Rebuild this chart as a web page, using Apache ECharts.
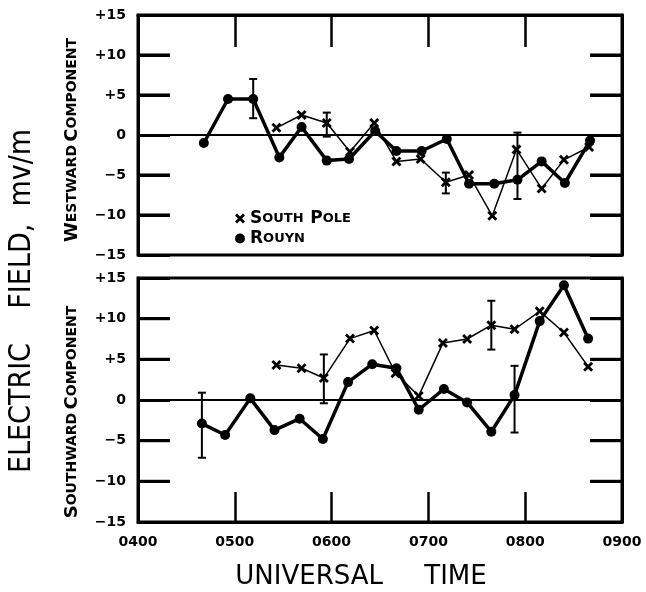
<!DOCTYPE html>
<html>
<head>
<meta charset="utf-8">
<script src="https://cdn.jsdelivr.net/npm/echarts@6/dist/echarts.min.js"></script>
<style>
  html, body { margin: 0; padding: 0; background: #fff; }
  #chart { width: 646px; height: 592px; background: #fff; }
</style>
</head>
<body>
<div id="chart"></div>
<script>
// universal time in decimal hours, field values in mV/m
const westRouynTime = [4.68, 4.93, 5.19, 5.46, 5.69, 5.95, 6.18, 6.45, 6.67, 6.93, 7.19, 7.42, 7.68, 7.92, 8.17, 8.41, 8.67];
const westRouyn = [-1, 4.5, 4.5, -2.8, 1.0, -3.2, -3, 0.5, -2, -2, -0.5, -6.1, -6.1, -5.6, -3.3, -6, -0.7];
const westPoleTime = [5.43, 5.69, 5.95, 6.19, 6.44, 6.67, 6.92, 7.18, 7.42, 7.66, 7.91, 8.17, 8.40, 8.66];
const westPole = [0.9, 2.5, 1.5, -2.1, 1.5, -3.3, -3, -5.9, -5, -10.1, -1.8, -6.7, -3.1, -1.5];
const westErrors = [[5.19, 2.1, 7.0], [5.95, -0.2, 2.8], [7.18, -7.3, -4.7], [7.92, -8.0, 0.3]];

const southRouynTime = [4.66, 4.90, 5.16, 5.41, 5.67, 5.91, 6.17, 6.42, 6.67, 6.90, 7.16, 7.40, 7.65, 7.89, 8.15, 8.40, 8.65];
const southRouyn = [-2.9, -4.3, 0.2, -3.7, -2.3, -4.8, 2.2, 4.4, 3.9, -1.2, 1.35, -0.3, -3.9, 0.6, 9.7, 14.1, 7.55];
const southPoleTime = [5.43, 5.69, 5.92, 6.19, 6.44, 6.66, 6.90, 7.15, 7.40, 7.65, 7.89, 8.15, 8.40, 8.65];
const southPole = [4.3, 3.9, 2.7, 7.55, 8.55, 3.3, 0.5, 7.0, 7.5, 9.2, 8.7, 10.9, 8.3, 4.1];
const southErrors = [[4.66, -7.1, 0.9], [5.92, -0.4, 5.6], [7.65, 6.2, 12.2], [7.89, -4.0, 4.2]];

// axis ranges and the inner tick marks on both sides of each panel
const timeMin = 4, timeMax = 9;
const fieldMin = -15, fieldMax = 15;
const sideTicks = [-10, -5, 5, 10];
const tickSpan = 0.33; // hours, about a third of an hour division
const tickHalf = 0.19; // field units, half the tick thickness

const FONT = '"DejaVu Sans", sans-serif';
const X_MARK = 'path://M0,2L2,0L5,3L8,0L10,2L7,5L10,8L8,10L5,7L2,10L0,8L3,5Z';

const pairs = (t, v) => t.map((x, i) => [x, v[i]]);
const yFmt = v => (v > 0 ? '+' + v : v < 0 ? '\u2212' + (-v) : '0');
const frame = () => ({ show: true, onZero: false, lineStyle: { color: '#000', width: 3 } });
const ticks = len => ({ show: true, inside: true, length: len, lineStyle: { color: '#000', width: 2.5 } });

function errorBars(data, idx) {
  return {
    type: 'custom',
    name: 'err' + idx,
    xAxisIndex: idx,
    yAxisIndex: idx * 2,
    encode: { x: 0, y: [1, 2] },
    data: data,
    z: 5,
    renderItem: (params, api) => {
      const x = api.value(0);
      const top = api.coord([x, api.value(2)]);
      const bot = api.coord([x, api.value(1)]);
      const w = 4;
      const st = { stroke: '#000', lineWidth: 2 };
      return {
        type: 'group',
        children: [
          { type: 'line', shape: { x1: top[0], y1: top[1], x2: bot[0], y2: bot[1] }, style: st },
          { type: 'line', shape: { x1: top[0] - w, y1: top[1], x2: top[0] + w, y2: top[1] }, style: st },
          { type: 'line', shape: { x1: bot[0] - w, y1: bot[1], x2: bot[0] + w, y2: bot[1] }, style: st }
        ]
      };
    }
  };
}

// side ticks as thin filled blocks hugging the frame
function tickBlocks() {
  const out = [];
  sideTicks.forEach(v => {
    out.push([{ coord: [timeMin, v - tickHalf] }, { coord: [timeMin + tickSpan, v + tickHalf] }]);
    out.push([{ coord: [timeMax - tickSpan, v - tickHalf] }, { coord: [timeMax, v + tickHalf] }]);
  });
  return out;
}

function rouyn(t, v, idx) {
  return {
    type: 'line', name: 'Rouyn', xAxisIndex: idx, yAxisIndex: idx * 2,
    data: pairs(t, v), symbol: 'circle', symbolSize: 10,
    itemStyle: { color: '#000' }, lineStyle: { color: '#000', width: 3.5 }, z: 4,
    markArea: {
      silent: true, label: { show: false },
      itemStyle: { color: '#000', opacity: 1 },
      data: tickBlocks()
    }
  };
}

function pole(t, v, idx) {
  return {
    type: 'line', name: 'South Pole', xAxisIndex: idx, yAxisIndex: idx * 2,
    data: pairs(t, v), symbol: X_MARK, symbolSize: 10,
    itemStyle: { color: '#000' }, lineStyle: { color: '#000', width: 1.5 }, z: 3,
    markLine: {
      silent: true, symbol: 'none', label: { show: false },
      lineStyle: { color: '#000', width: 2, type: 'solid' },
      data: [{ yAxis: 0 }]
    }
  };
}

function yAxes(gi) {
  return [
    {
      type: 'value', gridIndex: gi, min: fieldMin, max: fieldMax, interval: 5, position: 'left',
      axisLine: frame(), axisTick: ticks(32),
      // split lines dashed so only the first and last 32px of the 484px width show
      splitLine: { show: true, lineStyle: { color: '#000', width: 3, type: [32, 420], dashOffset: 0 } },
      axisLabel: { color: '#000', fontFamily: FONT, fontWeight: 'bold', fontSize: 14, margin: 12, formatter: yFmt }
    },
    {
      type: 'value', gridIndex: gi, min: fieldMin, max: fieldMax, interval: 5, position: 'right',
      axisLine: frame(), splitLine: { show: false }, axisTick: ticks(32),
      axisLabel: { show: false }
    }
  ];
}

const chart = echarts.init(document.getElementById('chart'));
chart.setOption({
  animation: false,
  grid: [
    { left: 138, top: 15, width: 484, height: 240, show: true, borderColor: '#000', borderWidth: 3 },
    { left: 138, top: 278, width: 484, height: 244, show: true, borderColor: '#000', borderWidth: 3 }
  ],
  xAxis: [
    {
      type: 'value', gridIndex: 0, min: timeMin, max: timeMax, interval: 1, position: 'top',
      axisLine: frame(), splitLine: { show: false }, axisLabel: { show: false },
      axisTick: ticks(32)
    },
    {
      type: 'value', gridIndex: 1, min: timeMin, max: timeMax, interval: 1, position: 'bottom',
      axisLine: frame(), splitLine: { show: false },
      axisTick: ticks(30),
      axisLabel: {
        color: '#000', fontFamily: FONT, fontWeight: 'bold', fontSize: 14, margin: 13,
        formatter: v => '0' + v + '00'
      }
    }
  ],
  yAxis: yAxes(0).concat(yAxes(1)),
  legend: {
    left: 230, top: 205, orient: 'vertical', itemGap: 3, itemWidth: 10, itemHeight: 10,
    data: [{ name: 'South Pole', icon: X_MARK }, { name: 'Rouyn', icon: 'circle' }],
    formatter: n => (n === 'Rouyn' ? '{a|R}{b|OUYN}' : '{a|S}{b|OUTH}  {a|P}{b|OLE}'),
    textStyle: {
      color: '#000',
      rich: {
        a: { fontFamily: FONT, fontWeight: 'bold', fontSize: 17, color: '#000' },
        b: { fontFamily: FONT, fontWeight: 'bold', fontSize: 13, color: '#000' }
      }
    }
  },
  graphic: [
    {
      type: 'text', x: 22, y: 301, rotation: Math.PI / 2, scaleX: 0.9,
      style: {
        text: 'ELECTRIC    FIELD,  mv/m', font: '30px ' + FONT, fill: '#000',
        textAlign: 'center', textVerticalAlign: 'middle', align: 'center', verticalAlign: 'middle'
      }
    },
    {
      type: 'text', x: 72, y: 140, rotation: Math.PI / 2,
      style: {
        text: '{a|W}{b|ESTWARD} {a|C}{b|OMPONENT}', fill: '#000',
        textAlign: 'center', textVerticalAlign: 'middle', align: 'center', verticalAlign: 'middle',
        rich: {
          a: { font: 'bold 18px ' + FONT, fill: '#000' },
          b: { font: 'bold 14px ' + FONT, fill: '#000' }
        }
      }
    },
    {
      type: 'text', x: 72, y: 412, rotation: Math.PI / 2,
      style: {
        text: '{a|S}{b|OUTHWARD} {a|C}{b|OMPONENT}', fill: '#000',
        textAlign: 'center', textVerticalAlign: 'middle', align: 'center', verticalAlign: 'middle',
        rich: {
          a: { font: 'bold 18px ' + FONT, fill: '#000' },
          b: { font: 'bold 14px ' + FONT, fill: '#000' }
        }
      }
    },
    {
      type: 'text', x: 361, y: 577,
      style: {
        text: 'UNIVERSAL     TIME', font: '26px ' + FONT, fill: '#000',
        textAlign: 'center', textVerticalAlign: 'middle', align: 'center', verticalAlign: 'middle'
      }
    }
  ],
  series: [
    pole(westPoleTime, westPole, 0),
    rouyn(westRouynTime, westRouyn, 0),
    errorBars(westErrors, 0),
    pole(southPoleTime, southPole, 1),
    rouyn(southRouynTime, southRouyn, 1),
    errorBars(southErrors, 1)
  ]
});
</script>
</body>
</html>
